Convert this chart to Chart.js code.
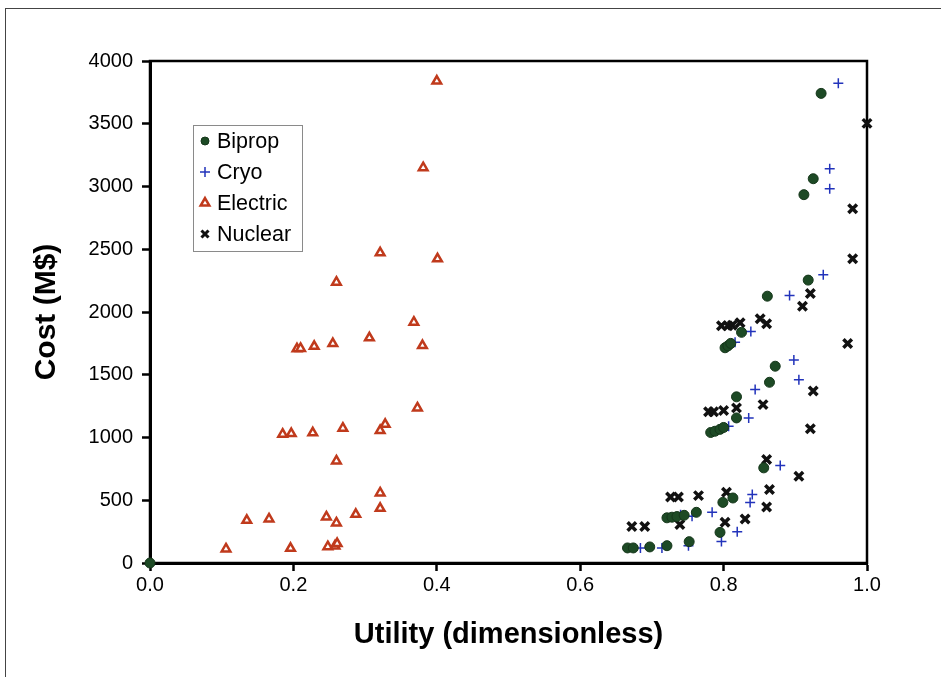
<!DOCTYPE html>
<html>
<head>
<meta charset="utf-8">
<script src="https://cdn.jsdelivr.net/npm/chart.js@4.4.1/dist/chart.umd.min.js"></script>
<style>
  html, body { margin: 0; padding: 0; background: #fff; }
  #wrap { position: relative; width: 941px; height: 677px; }
  #frame { position: absolute; left: 5px; top: 8px; right: -2px; bottom: -2px;
           border-left: 1.5px solid #444; border-top: 1.5px solid #444; pointer-events: none; }
  canvas { position: absolute; left: 0; top: 0; }
</style>
</head>
<body>
<div id="wrap">
  <canvas id="chart" width="941" height="677"></canvas>
  <div id="frame"></div>
</div>
<script>
// Utility (x) and cost in M$ (y)
const bipropX = [0, 0.666, 0.674, 0.697, 0.721, 0.752, 0.721, 0.728, 0.735, 0.745, 0.762,
  0.795, 0.799, 0.813, 0.856, 0.782, 0.788, 0.795, 0.800, 0.818, 0.818, 0.864, 0.872,
  0.802, 0.806, 0.810, 0.825, 0.861, 0.918, 0.912, 0.925, 0.936];
const bipropY = [0, 120, 120, 128, 138, 170, 360, 365, 370, 380, 404,
  244, 483, 518, 758, 1040, 1050, 1065, 1080, 1156, 1324, 1440, 1568,
  1715, 1730, 1750, 1838, 2126, 2254, 2935, 3062, 3742];

const cryoX = [0.684, 0.714, 0.751, 0.797, 0.819, 0.740, 0.756, 0.784, 0.837, 0.840,
  0.879, 0.807, 0.835, 0.844, 0.905, 0.898, 0.816, 0.838, 0.892, 0.939, 0.948, 0.948, 0.960];
const cryoY = [120, 120, 138, 172, 250, 385, 372, 404, 483, 545,
  776, 1089, 1156, 1382, 1460, 1618, 1759, 1845, 2132, 2297, 2982, 3142, 3822];

const electricX = [0.106, 0.135, 0.166, 0.196, 0.248, 0.258, 0.261, 0.246, 0.260, 0.287,
  0.321, 0.321, 0.260, 0.185, 0.197, 0.227, 0.269, 0.321, 0.328, 0.373,
  0.205, 0.210, 0.229, 0.255, 0.306, 0.380, 0.368, 0.260, 0.321, 0.401, 0.381, 0.400];
const electricY = [112, 340, 351, 117, 130, 135, 155, 367, 319, 388,
  436, 558, 813, 1026, 1031, 1037, 1074, 1055, 1105, 1236,
  1707, 1710, 1727, 1749, 1794, 1733, 1919, 2238, 2472, 2424, 3150, 3840];

const nuclearX = [0.672, 0.690, 0.739, 0.726, 0.737, 0.765, 0.802, 0.804, 0.830, 0.860,
  0.864, 0.905, 0.860, 0.779, 0.786, 0.800, 0.818, 0.855, 0.925, 0.921,
  0.797, 0.806, 0.812, 0.823, 0.851, 0.860, 0.910, 0.921, 0.973, 0.980, 0.980, 1.0];
const nuclearY = [290, 290, 306, 526, 526, 537, 324, 563, 351, 447,
  585, 691, 824, 1205, 1205, 1215, 1236, 1262, 1370, 1069,
  1890, 1890, 1895, 1915, 1946, 1906, 2046, 2148, 1749, 2424, 2823, 3503];

const xTicks = [0, 0.2, 0.4, 0.6, 0.8, 1.0];
const yTicks = [0, 500, 1000, 1500, 2000, 2500, 3000, 3500, 4000];

const pts = (xs, ys) => xs.map((x, i) => ({ x: x, y: ys[i] }));
const FONT = "'Liberation Sans', Arial, sans-serif";

// legend box drawn inside the plot, top left
const boxLegend = {
  id: 'boxLegend',
  afterDraw(chart) {
    const ctx = chart.ctx;
    ctx.save();
    ctx.strokeStyle = '#8a8a8a';
    ctx.lineWidth = 1;
    ctx.strokeRect(193.5, 125.5, 109, 126);
    chart.data.datasets.forEach((ds, i) => {
      const y = 141 + i * 31;
      ctx.fillStyle = ds.backgroundColor;
      ctx.strokeStyle = ds.borderColor;
      ctx.lineWidth = ds.legendWidth;
      Chart.helpers.drawPoint(ctx, { pointStyle: ds.pointStyle, radius: ds.legendRadius, rotation: 0, borderWidth: ds.legendWidth }, 205, y);
      ctx.fillStyle = '#000';
      ctx.font = '21.5px ' + FONT;
      ctx.textBaseline = 'middle';
      ctx.textAlign = 'left';
      ctx.fillText(ds.label, 217, y + 1);
    });
    ctx.restore();
  }
};

// black frame round the plot area
const plotFrame = {
  id: 'plotFrame',
  beforeDatasetsDraw(chart) {
    const a = chart.chartArea;
    const ctx = chart.ctx;
    ctx.save();
    ctx.strokeStyle = '#000';
    ctx.lineWidth = 2.5;
    ctx.strokeRect(a.left, a.top, a.right - a.left, a.bottom - a.top);
    ctx.restore();
  }
};

const ctx = document.getElementById('chart').getContext('2d');
new Chart(ctx, {
  type: 'scatter',
  data: {
    datasets: [
      { label: 'Biprop', data: pts(bipropX, bipropY), pointStyle: 'circle', pointRadius: 5, clip: false,
        backgroundColor: '#1d4a25', borderColor: '#15361a', borderWidth: 1, legendRadius: 4, legendWidth: 1 },
      { label: 'Cryo', data: pts(cryoX, cryoY), pointStyle: 'cross', pointRadius: 5, clip: false,
        backgroundColor: '#2233bb', borderColor: '#2233bb', borderWidth: 1.5, legendRadius: 5, legendWidth: 1.5 },
      { label: 'Electric', data: pts(electricX, electricY), pointStyle: 'triangle', pointRadius: 5, clip: false,
        backgroundColor: '#ffffff', borderColor: '#c03a1c', borderWidth: 2.5, legendRadius: 5, legendWidth: 2.5 },
      { label: 'Nuclear', data: pts(nuclearX, nuclearY), pointStyle: 'crossRot', pointRadius: 6, clip: false,
        backgroundColor: '#111', borderColor: '#111', borderWidth: 3.5, legendRadius: 5, legendWidth: 3 }
    ]
  },
  options: {
    responsive: false,
    animation: false,
    layout: { padding: { left: 0, top: 61, right: 74, bottom: 0 } },
    plugins: { legend: { display: false }, tooltip: { enabled: false } },
    scales: {
      x: {
        type: 'linear', min: 0, max: 1,
        afterBuildTicks: s => { s.ticks = xTicks.map(v => ({ value: v })); },
        afterFit: s => { s.height = 114; },
        border: { color: '#000', width: 3 },
        grid: { drawOnChartArea: false, drawTicks: true, tickLength: 8, tickColor: '#000', tickWidth: 2.5 },
        ticks: { color: '#000', padding: 2, font: { family: FONT, size: 20 }, callback: v => v.toFixed(1) },
        title: { display: true, text: 'Utility (dimensionless)', color: '#000',
          font: { family: FONT, size: 29, weight: 'bold' }, padding: { top: 0, bottom: 25 } }
      },
      y: {
        type: 'linear', min: 0, max: 4000,
        afterBuildTicks: s => { s.ticks = yTicks.map(v => ({ value: v })); },
        afterFit: s => { s.width = 150; },
        border: { color: '#000', width: 3 },
        grid: { drawOnChartArea: false, drawTicks: true, tickLength: 8, tickColor: '#000', tickWidth: 2.5 },
        ticks: { color: '#000', padding: 9, font: { family: FONT, size: 20 }, callback: v => String(v) },
        title: { display: true, text: 'Cost (M$)', color: '#000',
          font: { family: FONT, size: 30, weight: 'bold' }, padding: { top: 29, bottom: 0 } }
      }
    }
  },
  plugins: [plotFrame, boxLegend]
});
</script>
</body>
</html>
